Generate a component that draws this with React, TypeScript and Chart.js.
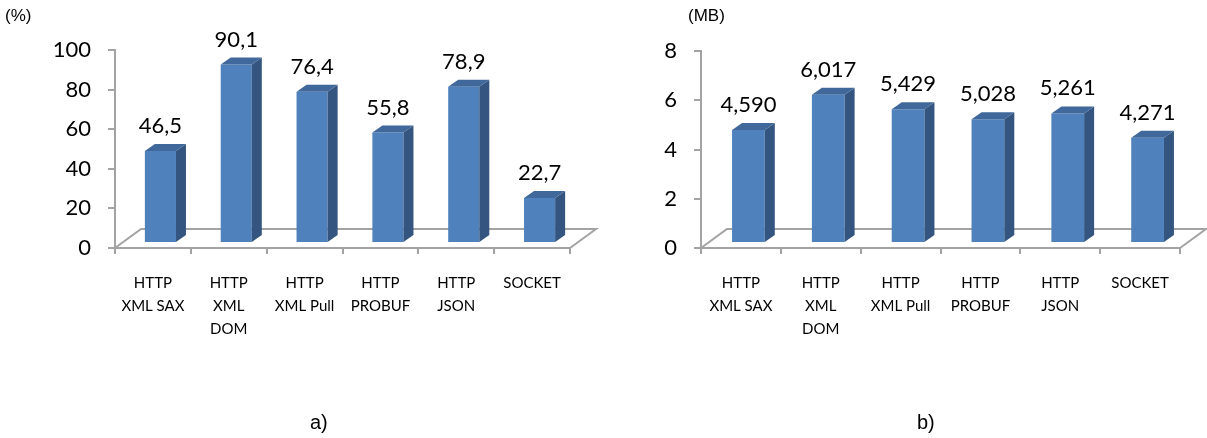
import { useEffect, useRef } from 'react';
import { Chart, registerables } from 'chart.js';

Chart.register(...registerables);

// Shared categories for both panels (multi-line axis labels)
const categories: string[][] = [
  ['HTTP', 'XML SAX'],
  ['HTTP', 'XML', 'DOM'],
  ['HTTP', 'XML Pull'],
  ['HTTP', 'PROBUF'],
  ['HTTP', 'JSON'],
  ['SOCKET'],
];

// a) CPU usage, percent
const cpuValues = [46.5, 90.1, 76.4, 55.8, 78.9, 22.7];
const cpuTicks = [0, 20, 40, 60, 80, 100];

// b) memory usage, MB
const memoryValues = [4.59, 6.017, 5.429, 5.028, 5.261, 4.271];
const memoryTicks = [0, 2, 4, 6, 8];

const AXIS_COLOR = '#a3a3a3';
const FRONT_COLOR = '#4f81bd';
const SIDE_COLOR = '#34557f';
const TOP_COLOR = '#40689a';

// pseudo-3D geometry (pixels)
const FLOOR_DX = 26;
const FLOOR_DY = 19;
const BAR_DX = 7.5;
const BAR_DY = 5;
const DEPTH_DX = 10;
const DEPTH_DY = 7;

const formatValue = (v: number, digits: number) => v.toFixed(digits).replace('.', ',');

function makeColumns3d(digits: number) {
  return {
    id: 'columns3d',
    beforeDatasetsDraw(chart: any) {
      const { ctx, chartArea } = chart;
      const x0 = chartArea.left;
      const x1 = chartArea.right;
      const y = chartArea.bottom;
      // floor outline behind the columns
      ctx.save();
      ctx.strokeStyle = AXIS_COLOR;
      ctx.lineWidth = 2;
      ctx.beginPath();
      ctx.moveTo(x0, y);
      ctx.lineTo(x0 + FLOOR_DX, y - FLOOR_DY);
      ctx.lineTo(x1 + FLOOR_DX, y - FLOOR_DY);
      ctx.lineTo(x1, y);
      ctx.stroke();
      ctx.restore();
      // front faces sit a little way back on the floor
      ctx.save();
      ctx.translate(BAR_DX, -BAR_DY);
    },
    afterDatasetsDraw(chart: any) {
      const { ctx } = chart;
      ctx.restore();
      const meta = chart.getDatasetMeta(0);
      const values = chart.data.datasets[0].data as number[];
      meta.data.forEach((bar: any, i: number) => {
        const { x, y, base, width } = bar.getProps(['x', 'y', 'base', 'width'], true);
        const l = x - width / 2 + BAR_DX;
        const r = x + width / 2 + BAR_DX;
        const t = y - BAR_DY;
        const b = base - BAR_DY;
        ctx.save();
        // right side face
        ctx.fillStyle = SIDE_COLOR;
        ctx.beginPath();
        ctx.moveTo(r, t);
        ctx.lineTo(r + DEPTH_DX, t - DEPTH_DY);
        ctx.lineTo(r + DEPTH_DX, b - DEPTH_DY);
        ctx.lineTo(r, b);
        ctx.closePath();
        ctx.fill();
        // top face
        ctx.fillStyle = TOP_COLOR;
        ctx.beginPath();
        ctx.moveTo(l, t);
        ctx.lineTo(l + DEPTH_DX, t - DEPTH_DY);
        ctx.lineTo(r + DEPTH_DX, t - DEPTH_DY);
        ctx.lineTo(r, t);
        ctx.closePath();
        ctx.fill();
        // value label
        ctx.fillStyle = '#000';
        ctx.font = '22px Lato';
        ctx.textAlign = 'center';
        ctx.textBaseline = 'alphabetic';
        ctx.fillText(formatValue(values[i], digits), x + BAR_DX, t - DEPTH_DY - 11);
        ctx.restore();
      });
    },
  };
}

function buildConfig(
  values: number[],
  ticks: number[],
  digits: number,
  axisLeft: number,
  padRight: number,
  padTop: number
): any {
  return {
    type: 'bar',
    data: {
      labels: categories,
      datasets: [
        {
          data: values,
          backgroundColor: FRONT_COLOR,
          borderWidth: 0,
          barPercentage: 0.41,
          categoryPercentage: 1,
        },
      ],
    },
    options: {
      responsive: false,
      animation: false,
      events: [],
      layout: { padding: { left: 0, right: padRight, top: padTop, bottom: 0 } },
      plugins: { legend: { display: false }, tooltip: { enabled: false } },
      scales: {
        x: {
          offset: true,
          ticks: {
            color: '#000',
            font: { family: 'Lato', size: 15, lineHeight: '23px' },
            padding: 18,
            autoSkip: false,
            maxRotation: 0,
            minRotation: 0,
          },
          grid: { drawOnChartArea: false, offset: true, tickLength: 6, color: AXIS_COLOR, lineWidth: 2 },
          border: { color: AXIS_COLOR, width: 2 },
          afterFit(scale: any) {
            scale.height = 438 - 248;
          },
        },
        y: {
          min: ticks[0],
          max: ticks[ticks.length - 1],
          ticks: {
            color: '#000',
            font: { family: 'Lato', size: 22 },
            padding: 17,
          },
          afterBuildTicks(scale: any) {
            scale.ticks = ticks.map((v) => ({ value: v }));
          },
          grid: { drawOnChartArea: false, tickLength: 7, color: AXIS_COLOR, lineWidth: 2 },
          border: { color: AXIS_COLOR, width: 2 },
          afterFit(scale: any) {
            scale.width = axisLeft;
          },
        },
      },
    },
    plugins: [makeColumns3d(digits)],
  };
}

function Panel(props: {
  left: number;
  width: number;
  values: number[];
  ticks: number[];
  digits: number;
  axisLeft: number;
  padRight: number;
  padTop: number;
}) {
  const ref = useRef<HTMLCanvasElement | null>(null);
  useEffect(() => {
    if (!ref.current) return;
    const chart = new Chart(
      ref.current,
      buildConfig(props.values, props.ticks, props.digits, props.axisLeft, props.padRight, props.padTop)
    );
    return () => chart.destroy();
  }, []);
  return (
    <canvas
      ref={ref}
      width={props.width}
      height={438}
      style={{ position: 'absolute', left: props.left, top: 0, width: props.width, height: 438 }}
    />
  );
}

const textStyle: any = {
  position: 'absolute',
  fontFamily: "'Liberation Sans', Arial, sans-serif",
  color: '#000',
  whiteSpace: 'nowrap',
};

export default function App() {
  return (
    <div style={{ position: 'absolute', left: 0, top: 0, width: 1207, height: 438, background: '#fff' }}>
      <Panel left={0} width={603} values={cpuValues} ticks={cpuTicks} digits={1} axisLeft={115} padRight={33} padTop={50} />
      <Panel left={603} width={604} values={memoryValues} ticks={memoryTicks} digits={3} axisLeft={98} padRight={27} padTop={51} />
      <div style={{ ...textStyle, left: 5, top: 6, fontSize: 17, lineHeight: '20px' }}>(%)</div>
      <div style={{ ...textStyle, left: 688, top: 6, fontSize: 17, lineHeight: '20px' }}>(MB)</div>
      <div style={{ ...textStyle, left: 310, top: 411, fontSize: 20, lineHeight: '22px' }}>a)</div>
      <div style={{ ...textStyle, left: 917, top: 411, fontSize: 20, lineHeight: '22px' }}>b)</div>
    </div>
  );
}
